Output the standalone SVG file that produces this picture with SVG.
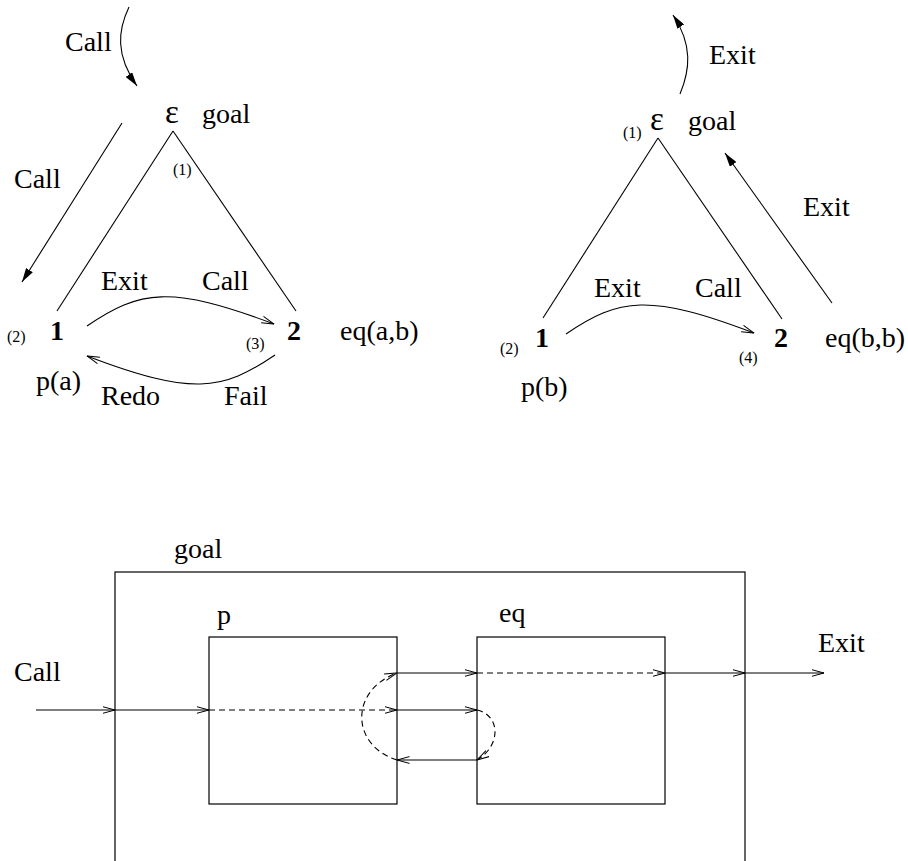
<svg xmlns="http://www.w3.org/2000/svg" width="908" height="861" viewBox="0 0 908 861">
<style>
text{font-family:'Liberation Serif','DejaVu Serif',serif;font-size:28px;fill:#000}
.sm{font-size:16px}
.b{font-weight:bold}
.eps{font-size:33px}
.ln{fill:none;stroke:#000;stroke-width:1.1}
.d{stroke-dasharray:6,4}
.box{fill:none;stroke:#000;stroke-width:1.2}
</style>
<defs>
<marker id="fa" viewBox="0 0 14 8" refX="14" refY="4" markerWidth="14" markerHeight="8" markerUnits="userSpaceOnUse" orient="auto">
<path d="M0,0 L14,4 L0,8 z" fill="#000"/>
</marker>
<marker id="oa" viewBox="0 0 13 8" refX="12.5" refY="4" markerWidth="13" markerHeight="8" markerUnits="userSpaceOnUse" orient="auto">
<path d="M0,0.6 L12.5,4 L0,7.4" fill="none" stroke="#000" stroke-width="1" stroke-dasharray="none"/>
</marker>
</defs>

<g font-family="Liberation Serif, DejaVu Serif, serif">
<g id="tree-left">
<g id="n-eps1"><text x="165" y="123" class="eps">ε</text><text x="202" y="123">goal</text><text x="173" y="175" class="sm">(1)</text></g>
<g id="n-1a"><text x="7" y="342" class="sm">(2)</text><text x="50" y="340" class="b">1</text><text x="36" y="390">p(a)</text></g>
<g id="n-2a"><text x="246" y="349" class="sm">(3)</text><text x="287" y="340" class="b">2</text><text x="340" y="340">eq(a,b)</text></g>
</g>

<g id="tree-right">
<g id="n-eps2"><text x="623" y="138" class="sm">(1)</text><text x="650" y="130" class="eps">ε</text><text x="688" y="130">goal</text></g>
<g id="n-1b"><text x="500" y="354" class="sm">(2)</text><text x="535" y="347" class="b">1</text><text x="521" y="396">p(b)</text></g>
<g id="n-2b"><text x="739" y="363" class="sm">(4)</text><text x="774" y="347" class="b">2</text><text x="825" y="347">eq(b,b)</text></g>
</g>

<g id="boxes">
<g id="box-goal"><rect class="box" x="115" y="572" width="630" height="310"/><text x="174" y="558">goal</text></g>
<g id="box-p"><rect class="box" x="209" y="637" width="188" height="167"/><text x="217" y="624">p</text></g>
<g id="box-eq"><rect class="box" x="477" y="637" width="188" height="167"/><text x="499" y="622">eq</text></g>
</g>

<g id="connectors">
<path class="ln" d="M173,131 L57,311"/>
<path class="ln" d="M173,131 L296,311"/>
<path class="ln" d="M129,7 C118,30 115,55 137,86" marker-end="url(#fa)"/>
<text x="65" y="51">Call</text>
<path class="ln" d="M122,123 L22,282" marker-end="url(#fa)"/>
<text x="14" y="188">Call</text>
<path class="ln" d="M87,326 C140,290 170,285 274,324" marker-end="url(#oa)"/>
<text x="101" y="290">Exit</text><text x="202" y="290">Call</text>
<path class="ln" d="M275,355 C222,391 192,396 87,356" marker-end="url(#oa)"/>
<text x="101" y="405">Redo</text><text x="224" y="405">Fail</text>

<path class="ln" d="M658,138 L543,318"/>
<path class="ln" d="M658,138 L782,319"/>
<path class="ln" d="M680,94 C690,70 693,45 673,15" marker-end="url(#fa)"/>
<text x="709" y="64">Exit</text>
<path class="ln" d="M832,303 L725,153" marker-end="url(#fa)"/>
<text x="803" y="216">Exit</text>
<path class="ln" d="M566,334 C619,298 649,293 754,333" marker-end="url(#oa)"/>
<text x="594" y="297">Exit</text><text x="695" y="297">Call</text>

<path class="ln" d="M36,710 L115,710" marker-end="url(#oa)"/>
<path class="ln" d="M115,710 L209,710" marker-end="url(#oa)"/>
<path class="ln d" d="M209,710 L397,710" marker-end="url(#oa)"/>
<path class="ln" d="M397,710 L477,710" marker-end="url(#oa)"/>
<path class="ln" d="M397,673 L477,673" marker-end="url(#oa)"/>
<path class="ln d" d="M477,673 L665,673" marker-end="url(#oa)"/>
<path class="ln" d="M665,673 L745,673" marker-end="url(#oa)"/>
<path class="ln" d="M745,673 L824,673" marker-end="url(#oa)"/>
<path class="ln" d="M477,760 L397,760" marker-end="url(#oa)"/>
<path class="ln d" d="M397,760 C350,745 350,690 397,673" marker-end="url(#oa)"/>
<path class="ln d" d="M477,710 C500,715 502,745 477,760" marker-end="url(#oa)"/>
<text x="14" y="681">Call</text>
<text x="818" y="652">Exit</text>
</g>
</g>
</svg>
